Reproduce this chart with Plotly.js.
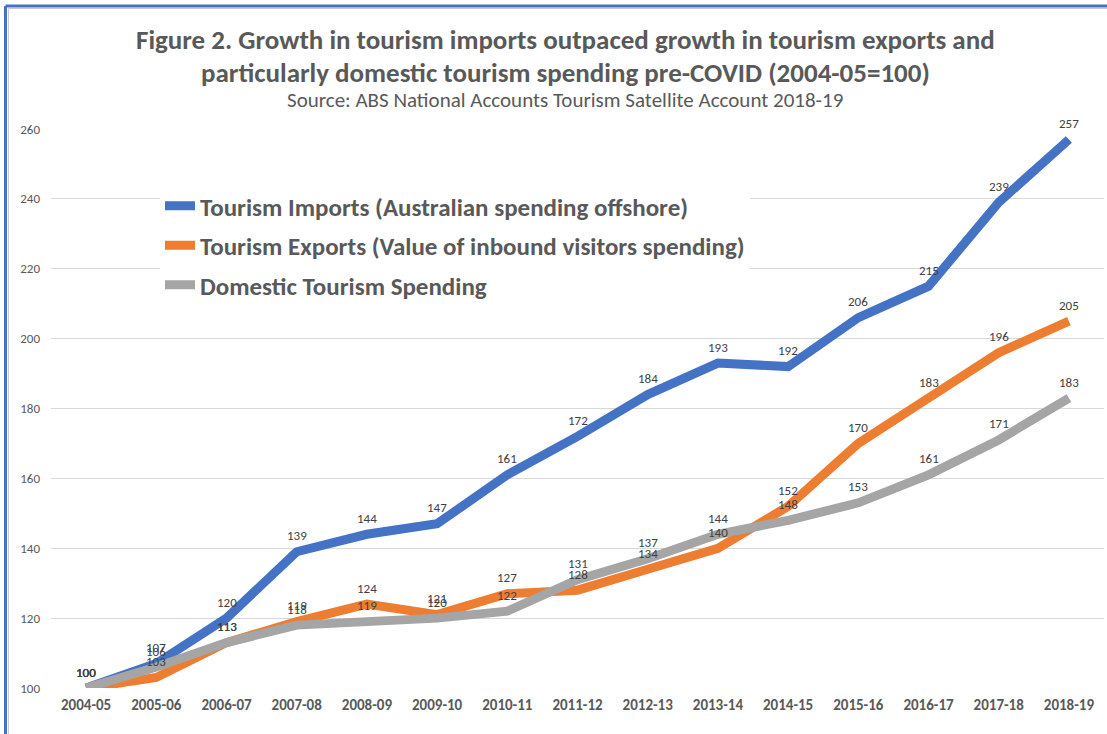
<!DOCTYPE html>
<html>
<head>
<meta charset="utf-8">
<script src="https://cdn.plot.ly/plotly-3.0.1.min.js"></script>
<style>html,body{margin:0;padding:0;background:#fff;}#chart{width:1107px;height:734px;}</style>
</head>
<body>
<div id="chart"></div>
<script>
const years = ["2004-05","2005-06","2006-07","2007-08","2008-09","2009-10","2010-11","2011-12","2012-13","2013-14","2014-15","2015-16","2016-17","2017-18","2018-19"];
const imports = [100,107,120,139,144,147,161,172,184,193,192,206,215,239,257];
const exportsV = [100,103,113,119,124,121,127,128,134,140,152,170,183,196,205];
const domestic = [100,106,113,118,119,120,122,131,137,144,148,153,161,171,183];
const seriesNames = ["Tourism Imports (Australian spending offshore)","Tourism Exports (Value of inbound visitors spending)","Domestic Tourism Spending"];
const yTicks = [100,120,140,160,180,200,220,240,260];
const titleLines = ["Figure 2. Growth in tourism imports outpaced growth in tourism exports and","particularly domestic tourism spending pre-COVID (2004-05=100)"];
const subtitle = "Source: ABS National Accounts Tourism Satellite Account 2018-19";

const FONT = "Carlito, 'Liberation Sans Narrow', 'DejaVu Sans Condensed', sans-serif";
const colors = ["#4472C4","#ED7D31","#A5A5A5"];
const allSeries = [imports, exportsV, domestic];

const traces = allSeries.map((vals,i)=>({
  type:"scatter", mode:"lines", x:years, y:vals, name:seriesNames[i], legendgroup:"g"+i,
  line:{color:colors[i], width:9}, hoverinfo:"x+y+name"
}));

const px = v => (v-51)/1053;
const py = v => (688-v)/559;

const annotations = [];
allSeries.forEach(vals=>{
  vals.forEach((v,j)=>{
    annotations.push({x:years[j], y:v, xref:"x", yref:"y", text:String(v), showarrow:false,
      yshift:16, font:{family:FONT, size:13, color:"#404040"}});
  });
});
annotations.push({xref:"paper", yref:"paper", x:px(565), y:py(40), yanchor:"middle", xanchor:"center",
  text:"<b>"+titleLines[0]+"</b>", showarrow:false, font:{family:FONT, size:27, color:"#595959"}});
annotations.push({xref:"paper", yref:"paper", x:px(565), y:py(72), yanchor:"middle", xanchor:"center",
  text:"<b>"+titleLines[1]+"</b>", showarrow:false, font:{family:FONT, size:27, color:"#595959"}});
annotations.push({xref:"paper", yref:"paper", x:px(565), y:py(100), yanchor:"middle", xanchor:"center",
  text:subtitle, showarrow:false, font:{family:FONT, size:21, color:"#595959"}});

const shapes = [
  {type:"line", xref:"paper", yref:"paper", x0:px(5.5), x1:px(1107), y0:py(6), y1:py(6), line:{color:"#4472C4", width:3}},
  {type:"line", xref:"paper", yref:"paper", x0:px(5.5), x1:px(5.5), y0:py(6), y1:py(740), line:{color:"#4472C4", width:3}},
  {type:"line", xref:"paper", yref:"paper", x0:px(8.5), x1:px(1107), y0:py(8.5), y1:py(8.5), line:{color:"#C8C8C8", width:1}},
  {type:"line", xref:"paper", yref:"paper", x0:px(8.5), x1:px(8.5), y0:py(8.5), y1:py(740), line:{color:"#C8C8C8", width:1}}
];

const layout = {
  width:1107, height:734,
  margin:{l:51, r:3, t:129, b:46},
  paper_bgcolor:"#fff", plot_bgcolor:"#fff",
  xaxis:{type:"category", range:[-0.5,14.5], showgrid:false, showline:false, zeroline:false,
    ticks:"", tickfont:{family:FONT, size:15, color:"#595959", weight:"bold"}, ticklabelstandoff:6},
  yaxis:{range:[100,260], tickvals:yTicks, ticktext:yTicks.map(String), showgrid:true, gridcolor:"#D9D9D9", gridwidth:1,
    zeroline:false, showline:false, ticks:"", tickfont:{family:FONT, size:13, color:"#595959"}, ticklabelstandoff:10},
  showlegend:true,
  legend:{x:px(160), y:py(183), xanchor:"left", yanchor:"top", bgcolor:"#fff",
    font:{family:FONT, size:25, color:"#595959", weight:600}, itemwidth:30, tracegroupgap:4},
  annotations:annotations,
  shapes:shapes
};

Plotly.newPlot("chart", traces, layout, {displayModeBar:false});
</script>
</body>
</html>
